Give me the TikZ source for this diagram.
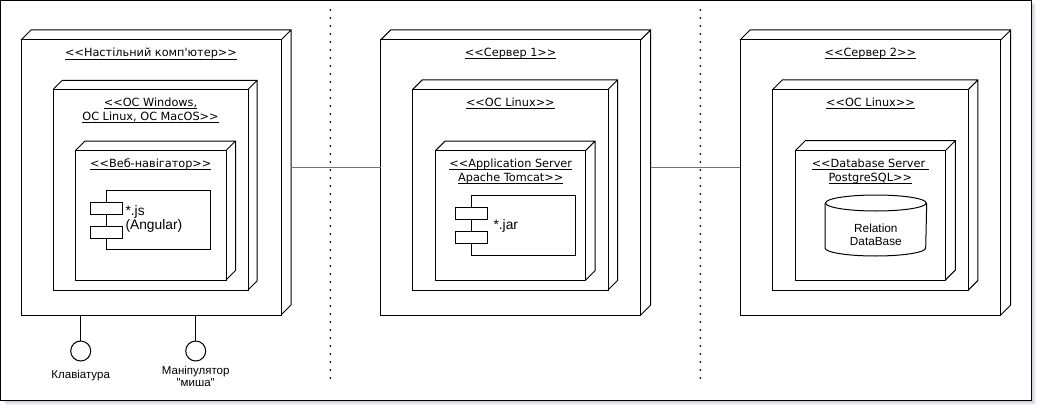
\documentclass[tikz,border=0pt]{standalone}
\usepackage{fontspec}
\setmainfont{DejaVu Sans}[Ligatures=TeXOff]
\newfontfamily\lblfont{Liberation Sans}[Ligatures=TeXOff]
\usetikzlibrary{calc,positioning}

\newsavebox\stulbox
\newcommand{\stul}[1]{\sbox\stulbox{#1}\rlap{\rule[-3pt]{\wd\stulbox}{0.9pt}}\usebox\stulbox}

\begin{document}
\begin{tikzpicture}[x=1pt,y=-1pt,line width=1pt,
    dev node/.style={rectangle,draw,fill=white,anchor=north west,inner sep=0pt,outer sep=0pt},
    stereo/.style={anchor=north,inner sep=0pt,align=center,font=\fontsize{11.3}{14}\selectfont},
    comp node/.style={rectangle,draw,fill=white,anchor=north west,inner sep=0pt,outer sep=0pt},
    port/.style={rectangle,draw,fill=white,minimum width=32pt,minimum height=12pt,inner sep=0pt},
    small text/.style={inner sep=0pt,align=left,font=\lblfont\fontsize{13.8}{14.3}\selectfont},
    db text/.style={inner sep=0pt,align=center,font=\lblfont\fontsize{11.8}{13.3}\selectfont},
    if text/.style={inner sep=0pt,align=center,font=\lblfont\fontsize{11.5}{12}\selectfont},
    iface/.style={circle,draw,fill=white,minimum size=20pt,inner sep=0pt},
    link/.style={draw=black!55,line width=1.3pt},
    sep line/.style={line width=2pt,dash pattern=on 0pt off 8pt,line cap=round}]

    \useasboundingbox (0,0) rectangle (1042,412);

    % frame with shadow
    \coordinate (framea) at (0.5,0.5);
    \coordinate (frameb) at (1031,400);
    \foreach \s in {1,...,5}
        \fill[black!70!blue,opacity=0.05] ($(framea)+(\s,\s)$) rectangle ($(frameb)+(\s,\s)$);
    \draw[fill=white] (framea) rectangle (frameb);

    % desktop
    \node (pc) at (21,40) [dev node,minimum width=260pt,minimum height=275pt]{};
    \node (pcos) at ($(pc.north west)+(32,49.5)$) [dev node,minimum width=195pt,minimum height=200.5pt]{};
    \node (web) at ($(pcos.north west)+(22.5,61)$) [dev node,minimum width=150.5pt,minimum height=129.5pt]{};
    \node (js) at ($(web.north west)+(31,40.2)$) [comp node,minimum width=103.5pt,minimum height=59pt]{};
    \node (jsa) at ($(js.west)+(0,-12)$) [port]{};
    \node (jsb) at ($(js.west)+(0,12)$) [port]{};

    \node (pclbl) at ($(pc.north)+(0,7.5)$) [stereo]{\stul{<<Настільний комп'ютер>>}};
    \node (pcoslbl) at ($(pcos.north)+(0,7.5)$) [stereo]{\stul{<<ОС Windows,}\\\stul{ОС Linux, ОС MacOS>>}};
    \node (weblbl) at ($(web.north)+(0,7.5)$) [stereo]{\stul{<<Веб-навігатор>>}};
    \node (jstxt) at ($(js.west)+(18.5,-1.5)$) [small text,anchor=west]{*.js\\(Angular)};

    % keyboard and mouse
    \node (kb) at ($(pc.south west)+(59.7,36)$) [iface]{};
    \node (mouse) at ($(kb)+(115,0)$) [iface]{};
    \node (kblbl) at ($(kb)+(0,25)$) [if text]{Клавіатура};
    \node (mouselbl) at ($(mouse)+(0,25)$) [if text]{Маніпулятор\\"миша"};
    \draw (kb) -- (kb |- pc.south);
    \draw (mouse) -- (mouse |- pc.south);

    % server 1
    \node (srv1) at ($(pc.north west)+(359.7,0)$) [dev node,minimum width=260pt,minimum height=275pt]{};
    \node (srv1os) at ($(srv1.north west)+(32,49.5)$) [dev node,minimum width=195.3pt,minimum height=200.5pt]{};
    \node (tomcat) at ($(srv1os.north west)+(23,61)$) [dev node,minimum width=150pt,minimum height=129.5pt]{};
    \node (jar) at ($(tomcat.north west)+(35.3,44.8)$) [comp node,minimum width=104.3pt,minimum height=60pt]{};
    \node (jara) at ($(jar.west)+(0,-12)$) [port]{};
    \node (jarb) at ($(jar.west)+(0,12)$) [port]{};

    \node (srv1lbl) at ($(srv1.north)+(0,7.5)$) [stereo]{\stul{<<Сервер 1>>}};
    \node (srv1oslbl) at ($(srv1os.north)+(0,7.5)$) [stereo]{\stul{<<ОС Linux>>}};
    \node (tomcatlbl) at ($(tomcat.north)+(0,7.5)$) [stereo]{\stul{<<Application Server}\\\stul{Apache Tomcat>>}};
    \node (jartxt) at ($(jar.west)+(22,0.7)$) [small text,anchor=west]{*.jar};

    % server 2
    \node (srv2) at ($(srv1.north west)+(359.3,0)$) [dev node,minimum width=260.7pt,minimum height=275pt]{};
    \node (srv2os) at ($(srv2.north west)+(32.7,49.5)$) [dev node,minimum width=195.6pt,minimum height=200.5pt]{};
    \node (dbs) at ($(srv2os.north west)+(22.6,61.2)$) [dev node,minimum width=150pt,minimum height=129.3pt]{};
    \node (rdb) at ($(dbs.north west)+(29.7,44.3)$) [anchor=north west,inner sep=0pt,minimum width=100.7pt,minimum height=60pt]{};
    \draw[fill=white] ($(rdb.north west)+(0,8)$) -- ($(rdb.south west)+(0,-8)$)
        arc[start angle=180,end angle=360,x radius=50.35pt,y radius=8pt] -- ($(rdb.north east)+(0,8)$);
    \draw[fill=white] ($(rdb.north)+(0,8)$) ellipse[x radius=50.35pt,y radius=8pt];

    \node (srv2lbl) at ($(srv2.north)+(0,7.5)$) [stereo]{\stul{<<Сервер 2>>}};
    \node (srv2oslbl) at ($(srv2os.north)+(0,7.5)$) [stereo]{\stul{<<ОС Linux>>}};
    \node (dbslbl) at ($(dbs.north)+(0,7.5)$) [stereo]{\stul{<<Database Server\ }\\\stul{PostgreSQL>>}};
    \node (rdbtxt) at ($(rdb.center)+(0,9.3)$) [db text]{Relation\\DataBase};

    % 3d faces of the nodes
    \foreach \n/\d in {pc/10,pcos/9,web/9.5,srv1/10,srv1os/9.5,tomcat/9.5,srv2/10,srv2os/9.5,dbs/10}
        \draw (\n.north west) -- ++(\d,-\d) -| ($(\n.south east)+(\d,-\d)$) -- (\n.south east)
              (\n.north east) -- ++(\d,-\d);

    % links
    \coordinate (pcside) at ($(pc.east)+(10,-10)$);
    \coordinate (srv1side) at ($(srv1.east)+(10,-10)$);
    \path[link]
        (pcside) edge (pcside -| srv1.west)
        (srv1side) edge (srv1side -| srv2.west)
    ;

    % separators
    \coordinate (sepatop) at (330.3,10);
    \coordinate (sepabot) at (330.3,379);
    \coordinate (sepbtop) at (700.3,10);
    \coordinate (sepbbot) at (700.3,379);
    \draw[sep line] (sepatop) -- (sepabot);
    \draw[sep line] (sepbtop) -- (sepbbot);
\end{tikzpicture}
\end{document}
